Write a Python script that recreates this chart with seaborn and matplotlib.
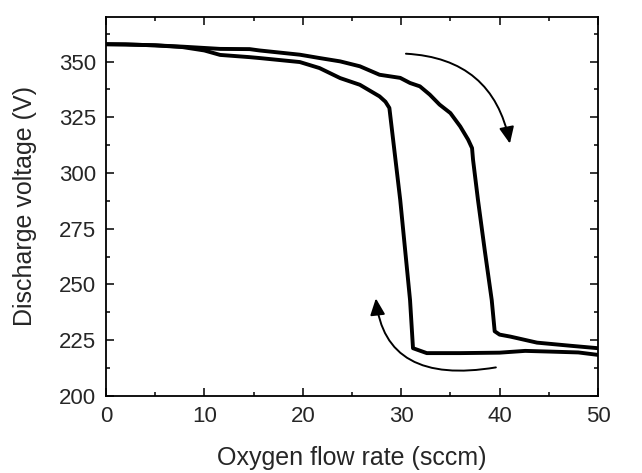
import numpy as np
import matplotlib
matplotlib.use("Agg")
import matplotlib.pyplot as plt
import seaborn as sns
from matplotlib.ticker import MultipleLocator

# increasing oxygen flow (upper branch)
flow_up = [0, 2, 5, 7.8, 11.6, 14.6, 15.6, 19.7, 21.7, 23.8, 25.8, 27.8, 29.9,
           30.9, 31.9, 32.9, 33.9, 35.0, 36.0, 36.8, 37.2, 37.3, 37.8, 38.5,
           39.2, 39.5, 40.0, 41.1, 43.8, 47.2, 50]
volt_up = [357.8, 357.7, 357.3, 356.7, 355.7, 355.6, 355.0, 353.1, 351.6, 350.1,
           347.9, 344.1, 342.7, 340.4, 338.9, 335.2, 330.7, 326.9, 320.9, 315.0,
           311.2, 306.0, 288.0, 265.0, 243.0, 229.0, 227.5, 226.6, 223.9, 222.5,
           221.4]

# decreasing oxygen flow (lower branch)
flow_down = [0, 2, 5, 7.8, 10, 11.6, 14.6, 15.6, 19.7, 21.7, 23.8, 25.8, 27.8,
             28.4, 28.8, 29.9, 30.9, 31.2, 32.6, 36, 40, 42.6, 45, 48, 50]
volt_down = [357.8, 357.7, 357.3, 356.5, 355.0, 353.0, 352.0, 351.6, 349.8,
             347.1, 342.6, 339.6, 334.4, 332.0, 329.2, 288.0, 243.0, 221.4,
             219.2, 219.2, 219.4, 220.2, 219.9, 219.5, 218.4]

x_ticks = [0, 10, 20, 30, 40, 50]
y_ticks = [200, 225, 250, 275, 300, 325, 350]

sns.set_theme(style="ticks")
plt.rcParams['font.family'] = ['Liberation Sans', 'DejaVu Sans']

fig = plt.figure(figsize=(6.42, 4.73), dpi=100)
ax = fig.add_axes([0.165, 0.163, 0.7665, 0.801])

sns.lineplot(x=flow_up, y=volt_up, color='black', lw=2.8, ax=ax, sort=False)
sns.lineplot(x=flow_down, y=volt_down, color='black', lw=2.8, ax=ax, sort=False)

# direction arrows
ax.annotate("", xy=(41.1, 312), xytext=(30.2, 353.6),
            arrowprops=dict(arrowstyle="-|>,head_length=1.0,head_width=0.45",
                            connectionstyle="arc3,rad=-0.4",
                            color='black', lw=1.4, mutation_scale=10))
ax.annotate("", xy=(27.4, 245), xytext=(39.9, 213),
            arrowprops=dict(arrowstyle="-|>,head_length=1.0,head_width=0.45",
                            connectionstyle="angle3,angleA=10,angleB=95",
                            color='black', lw=1.4, mutation_scale=10))

ax.set_xlim(0, 50)
ax.set_ylim(200, 370)
ax.set_xticks(x_ticks)
ax.set_yticks(y_ticks)
ax.xaxis.set_minor_locator(MultipleLocator(5))
ax.yaxis.set_minor_locator(MultipleLocator(12.5))
ax.tick_params(which='both', direction='in', top=True, right=True,
               color='black', width=1.1)
ax.tick_params(which='major', length=6, labelsize=16, pad=7)
ax.tick_params(which='minor', length=3)
for s in ax.spines.values():
    s.set_linewidth(1.3)
    s.set_color('black')

ax.set_xlabel('Oxygen flow rate (sccm)', fontsize=18, labelpad=14)
ax.set_ylabel('Discharge voltage (V)', fontsize=18, labelpad=16)

plt.savefig('out.png', dpi=100)
plt.close()
